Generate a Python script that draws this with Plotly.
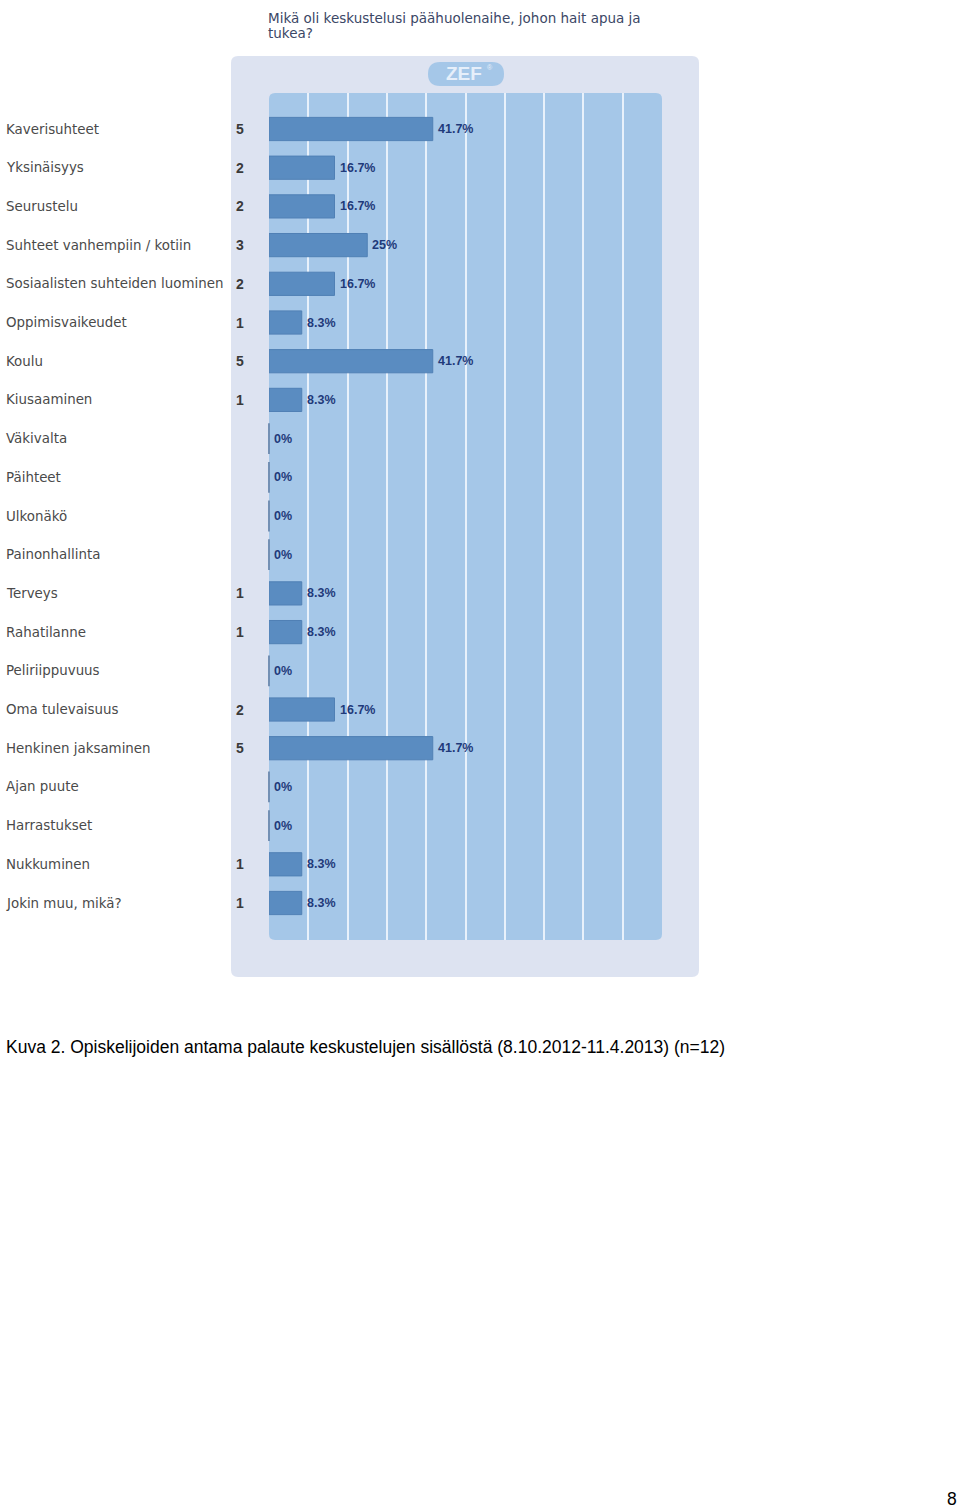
import plotly.graph_objects as go

categories = ["Kaverisuhteet", "Yksinäisyys", "Seurustelu", "Suhteet vanhempiin / kotiin",
              "Sosiaalisten suhteiden luominen", "Oppimisvaikeudet", "Koulu", "Kiusaaminen",
              "Väkivalta", "Päihteet", "Ulkonäkö", "Painonhallinta", "Terveys", "Rahatilanne",
              "Peliriippuvuus", "Oma tulevaisuus", "Henkinen jaksaminen", "Ajan puute",
              "Harrastukset", "Nukkuminen", "Jokin muu, mikä?"]
counts = [5, 2, 2, 3, 2, 1, 5, 1, 0, 0, 0, 0, 1, 1, 0, 2, 5, 0, 0, 1, 1]
n_total = 12
percents = [c / n_total * 100 for c in counts]
pct_labels = []
for p in percents:
    s = f"{p:.1f}"
    if s.endswith(".0"):
        s = s[:-2]
    pct_labels.append(s + "%")

title_lines = ["Mikä oli keskustelusi päähuolenaihe, johon hait apua ja", "tukea?"]
caption = "Kuva 2. Opiskelijoiden antama palaute keskustelujen sisällöstä (8.10.2012-11.4.2013) (n=12)"
page_number = "8"

W, H = 960, 1509
def px(x):
    return x / W
def py(y):
    return 1 - y / H

def rounded_rect(x0, y0, x1, y1, r):
    def P(x, y):
        return f"{px(x):.6f},{py(y):.6f}"
    path = (f"M {P(x0 + r, y0)} L {P(x1 - r, y0)} Q {P(x1, y0)} {P(x1, y0 + r)} "
            f"L {P(x1, y1 - r)} Q {P(x1, y1)} {P(x1 - r, y1)} "
            f"L {P(x0 + r, y1)} Q {P(x0, y1)} {P(x0, y1 - r)} "
            f"L {P(x0, y0 + r)} Q {P(x0, y0)} {P(x0 + r, y0)} Z")
    return path

fig = go.Figure()

fig.add_trace(go.Bar(
    x=percents, y=categories, orientation="h",
    marker=dict(color="#5a8cc1", line=dict(color="#5080b5", width=1)),
    width=0.6, showlegend=False, hoverinfo="skip",
))

zero_cats = [c for c, v in zip(categories, counts) if v == 0]
fig.add_trace(go.Scatter(
    x=[0] * len(zero_cats), y=zero_cats, mode="markers",
    marker=dict(symbol="line-ns-open", size=22, color="#7390b4",
                line=dict(color="#7390b4", width=2)),
    showlegend=False, hoverinfo="skip", cliponaxis=False,
))

annotations = []
for cat, c, p, lab in zip(categories, counts, percents, pct_labels):
    annotations.append(dict(x=px(6), xref="paper", y=cat, yref="y", text=cat, xshift=-2,
                            xanchor="left", yanchor="middle", showarrow=False,
                            font=dict(family="DejaVu Sans", size=13.4, color="#4a4a4a")))
    if c > 0:
        annotations.append(dict(x=px(240), xref="paper", y=cat, yref="y", text=str(c),
                                xanchor="center", yanchor="middle", showarrow=False,
                                font=dict(family="Liberation Sans", size=14, color="#3a3a3a",
                                          weight="bold")))
    annotations.append(dict(x=p, xref="x", y=cat, yref="y", text=lab, xshift=3,
                            xanchor="left", yanchor="middle", showarrow=False,
                            font=dict(family="Liberation Sans", size=12.5, color="#1f3a7a",
                                      weight="bold")))

annotations.append(dict(x=px(268), xref="paper", y=py(18), yref="paper", text=title_lines[0],
                        xanchor="left", yanchor="middle", showarrow=False, xshift=-2,
                        font=dict(family="DejaVu Sans", size=13.5, color="#3b4766")))
annotations.append(dict(x=px(268), xref="paper", y=py(33), yref="paper", text=title_lines[1],
                        xanchor="left", yanchor="middle", showarrow=False, xshift=-2,
                        font=dict(family="DejaVu Sans", size=13.5, color="#3b4766")))
annotations.append(dict(x=px(464), xref="paper", y=py(74), yref="paper", text="ZEF",
                        xanchor="center", yanchor="middle", showarrow=False,
                        font=dict(family="Liberation Sans", size=19, color="#e6effa",
                                  weight="bold")))
annotations.append(dict(x=px(490), xref="paper", y=py(67), yref="paper", text="®",
                        xanchor="center", yanchor="middle", showarrow=False,
                        font=dict(family="Liberation Sans", size=7, color="#e6effa")))
annotations.append(dict(x=px(6), xref="paper", y=py(1047), yref="paper", text=caption,
                        xanchor="left", yanchor="middle", showarrow=False, xshift=-2,
                        font=dict(family="Liberation Sans", size=17.5, color="#000000")))
annotations.append(dict(x=px(957), xref="paper", y=py(1499), yref="paper", text=page_number,
                        xanchor="right", yanchor="middle", showarrow=False, xshift=2,
                        font=dict(family="Liberation Sans", size=17.5, color="#000000")))

shapes = [
    dict(type="path", path=rounded_rect(231, 56, 699, 977, 7), xref="paper", yref="paper",
         fillcolor="#dde3f1", line=dict(width=0), layer="below"),
    dict(type="path", path=rounded_rect(269, 93, 662, 940, 6), xref="paper", yref="paper",
         fillcolor="#a5c7e8", line=dict(width=0), layer="below"),
    dict(type="path", path=rounded_rect(428, 62, 504, 86, 12), xref="paper", yref="paper",
         fillcolor="#a5c7e8", line=dict(width=0), layer="below"),
]

row_h = 38.7
first_c = 129
top_i = (93 - first_c) / row_h
bot_i = (940 - first_c) / row_h

fig.update_layout(
    width=W, height=H, margin=dict(l=0, r=0, t=0, b=0),
    paper_bgcolor="#ffffff", plot_bgcolor="rgba(0,0,0,0)",
    annotations=annotations, shapes=shapes,
    xaxis=dict(domain=[px(269), px(662)], range=[0, 100], tickvals=[10, 20, 30, 40, 50, 60, 70, 80, 90],
               showticklabels=False, showgrid=True, gridcolor="#e8f1fb", gridwidth=2,
               zeroline=False, showline=False, ticks="", fixedrange=True),
    yaxis=dict(domain=[py(940), py(93)], type="category", categoryorder="array",
               categoryarray=categories, range=[bot_i, top_i], showticklabels=False,
               showgrid=False, zeroline=False, showline=False, ticks="", fixedrange=True),
    bargap=0.4,
)

fig.write_html("out.html")
